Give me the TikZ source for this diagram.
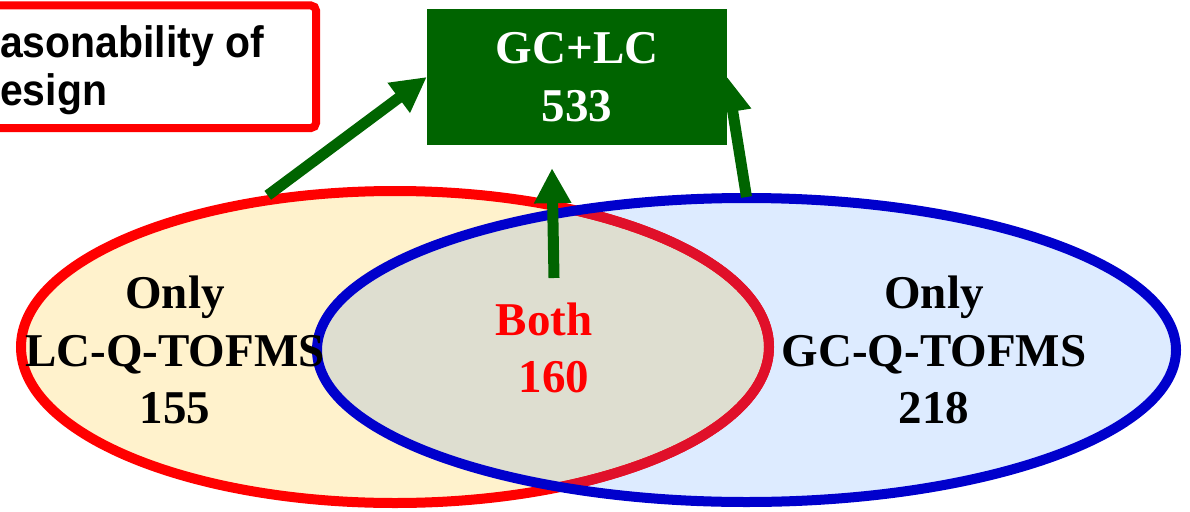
\documentclass[tikz,border=0pt]{standalone}
\usepackage{fontspec}
\setmainfont{Liberation Serif}
\newfontfamily\notefont[FakeStretch=0.93]{Liberation Sans}
\usetikzlibrary{shapes.geometric,arrows.meta}

\definecolor{lcfill}{HTML}{FFF2CC}
\definecolor{gcfill}{HTML}{DDEBFF}
\definecolor{bothfill}{HTML}{DEDED0}
\definecolor{lcline}{HTML}{FF0000}
\definecolor{lcunder}{HTML}{E0102A}
\definecolor{gcline}{HTML}{0000CC}
\definecolor{boxgreen}{HTML}{006400}

\pgfdeclarelayer{sets}
\pgfdeclarelayer{links}
\pgfsetlayers{sets,links,main}

\tikzset{
  setring/.style={ellipse, inner sep=0pt, line width=10pt},
  biglabel/.style={align=center, inner sep=0pt,
    font={\fontsize{47}{57.5}\selectfont\bfseries}},
  notetext/.style={anchor=base west, inner sep=0pt,
    font={\notefont\fontsize{44}{47}\selectfont\bfseries}},
  greenarrow/.style={draw=boxgreen, line width=11pt,
    -{Triangle[length=35pt,width=35pt]}},
}

\begin{document}
\begin{tikzpicture}[x=1pt,y=-1pt]
\useasboundingbox (0,0) rectangle (1190,511);

\begin{pgfonlayer}{sets}
% set fills: LC-only, GC-only and their overlap
\fill[lcfill] (395,347) ellipse [x radius=374, y radius=156];
\fill[gcfill] (746.5,350) ellipse [x radius=429.5, y radius=152];
\begin{scope}
  \clip (395,347) ellipse [x radius=374, y radius=156];
  \fill[bothfill] (746.5,350) ellipse [x radius=429.5, y radius=152];
\end{scope}
% LC ring, darker where it lies inside the GC set
\node[setring, draw=lcline, minimum width=748pt, minimum height=312pt] (lc) at (395,347) {};
\begin{scope}
  \clip (746.5,350) ellipse [x radius=429.5, y radius=152];
  \draw[lcunder, line width=10pt] (395,347) ellipse [x radius=374, y radius=156];
\end{scope}
% GC ring
\node[setring, draw=gcline, minimum width=859pt, minimum height=304pt] (gc) at (746.5,350) {};
\end{pgfonlayer}

% labels inside the sets
\node[biglabel] (lconly) at (175,350) {Only\\LC-Q-TOFMS\\155};
\node[biglabel] (gconly) at (934,350) {Only\\GC-Q-TOFMS\\218};
\node[biglabel, text=lcline] (both) at (544,348) {Both\\\hspace*{20pt}160};

% total box, drawn over the arrows that feed it
\node[fill=boxgreen, minimum width=300pt, minimum height=136pt, inner sep=0pt,
      biglabel, text=white] (total) at (577,77) {GC+LC\\533};
\coordinate (bothtail) at (554,278);
\begin{pgfonlayer}{links}
\draw[greenarrow] (lc.130) -- (total.west);
\draw[greenarrow] ([yshift=-4pt]gc.north) -- (total.east);
\draw[greenarrow] (bothtail) -- ([xshift=-25pt,yshift=-23pt]total.south);
\end{pgfonlayer}

% note box in the upper left corner
\node[draw=lcline, line width=8pt, rounded corners=5pt, minimum width=376pt,
      minimum height=122.5pt, inner sep=0pt] (note) at (128,66.75) {};
\node[notetext] (note1) at (0,58) {asonability of};
\node[notetext] (note2) at (0,105) {esign};
\end{tikzpicture}
\end{document}
